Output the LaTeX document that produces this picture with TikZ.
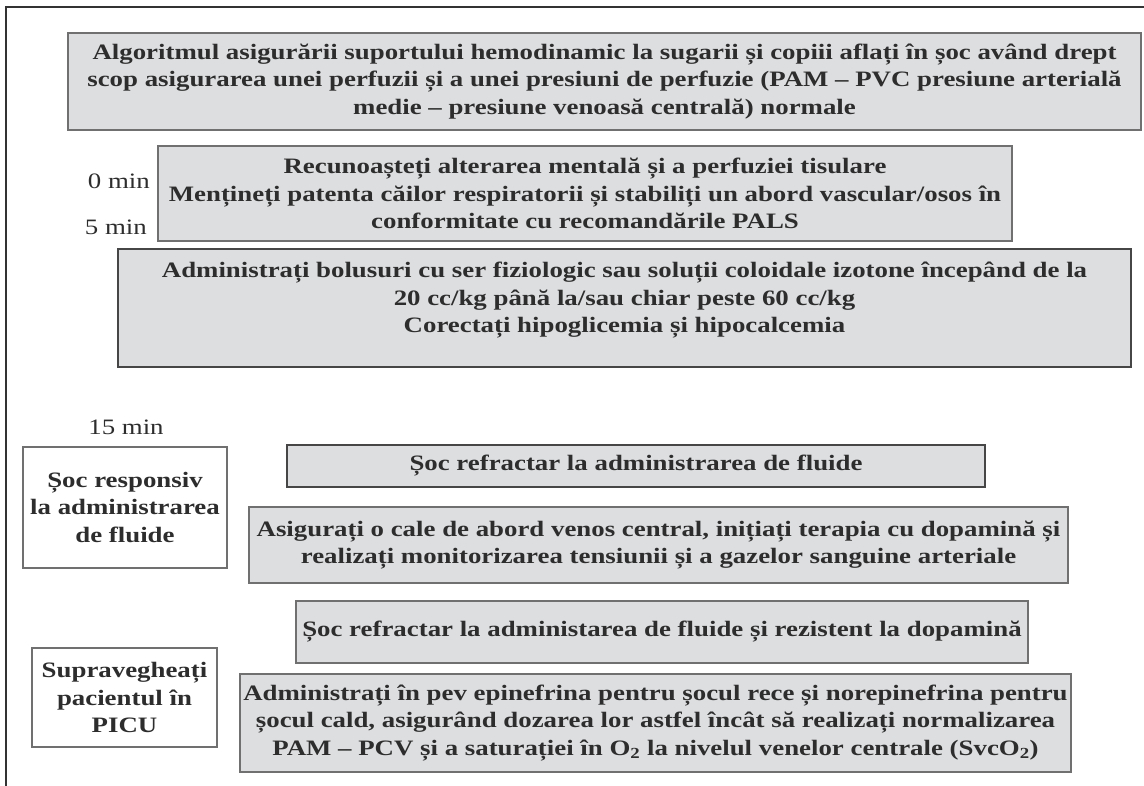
\documentclass[tikz,border=0pt]{standalone}
\usepackage{fontspec}
\setmainfont{Liberation Serif}[FakeStretch=1.22]
\usetikzlibrary{positioning}
\definecolor{panelfill}{RGB}{221,222,224}
\definecolor{paneledge}{RGB}{112,112,112}
\definecolor{darkedge}{RGB}{70,70,70}
\definecolor{inkgray}{RGB}{45,45,45}
\begin{document}
\begin{tikzpicture}[x=1pt, y=-1pt,
    panel/.style 2 args={draw=paneledge, line width=1.6pt, fill=panelfill, text=inkgray, minimum width=#1pt, minimum height=#2pt, align=center, inner sep=1pt, font=\fontsize{22}{27.5}\selectfont\bfseries},
    heavy/.style={draw=darkedge, line width=2.4pt},
    sidebox/.style 2 args={panel={#1}{#2}, fill=white},
    tlabel/.style={text=inkgray, inner sep=1pt, font=\fontsize{22}{27.5}\selectfont}
]
    \useasboundingbox (0,0) rectangle (1144,786);
    \draw [line width=1.5pt, draw=black!80] (1144,7) -- (6,7) -- (6,786);

    \node [panel={1073}{97}] (title) at (604.5,81.5) {Algoritmul asigurării suportului hemodinamic la sugarii și copiii aflați în șoc având drept\\scop asigurarea unei perfuzii și a unei presiuni de perfuzie (PAM – PVC presiune arterială\\medie – presiune venoasă centrală) normale};

    \node [panel={854}{95}] (recog) at (585,193.5) {Recunoașteți alterarea mentală și a perfuziei tisulare\\Mențineți patenta căilor respiratorii și stabiliți un abord vascular/osos în\\conformitate cu recomandările PALS};
    \node [tlabel, anchor=east] (t0) at (151,181) {0 min};
    \node [tlabel, anchor=east] (t5) at (148,227) {5 min};

    \node [panel={1013}{118}, heavy] (bolus) at (624.5,308) {Administrați bolusuri cu ser fiziologic sau soluții coloidale izotone începând de la\\20 cc/kg până la/sau chiar peste 60 cc/kg\\Corectați hipoglicemia și hipocalcemia\rule[-21pt]{0pt}{1pt}};

    \node [tlabel] (t15) at (126,427) {15 min};
    \node [sidebox={204}{121}] (resp) at (125,507.5) {Șoc responsiv\\la administrarea\\de fluide};
    \node [panel={698}{42}, heavy] (refr) at (636,466) {Șoc refractar la administrarea de fluide};
    \node [panel={819}{76}] (dopa) at (658.5,545) {Asigurați o cale de abord venos central, inițiați terapia cu dopamină și\\realizați monitorizarea tensiunii și a gazelor sanguine arteriale};

    \node [panel={732}{62}] (resist) at (662,632) {Șoc refractar la administarea de fluide și rezistent la dopamină};
    \node [sidebox={185}{99}] (picu) at (124.5,697.5) {Supravegheați\\pacientul în\\PICU};
    \node [panel={831}{98}] (epi) at (655.5,723) {Administrați în pev epinefrina pentru șocul rece și norepinefrina pentru\\șocul cald, asigurând dozarea lor astfel încât să realizați normalizarea\\PAM – PCV și a saturației în O\textsubscript{2} la nivelul venelor centrale (SvcO\textsubscript{2})};
\end{tikzpicture}
\end{document}
